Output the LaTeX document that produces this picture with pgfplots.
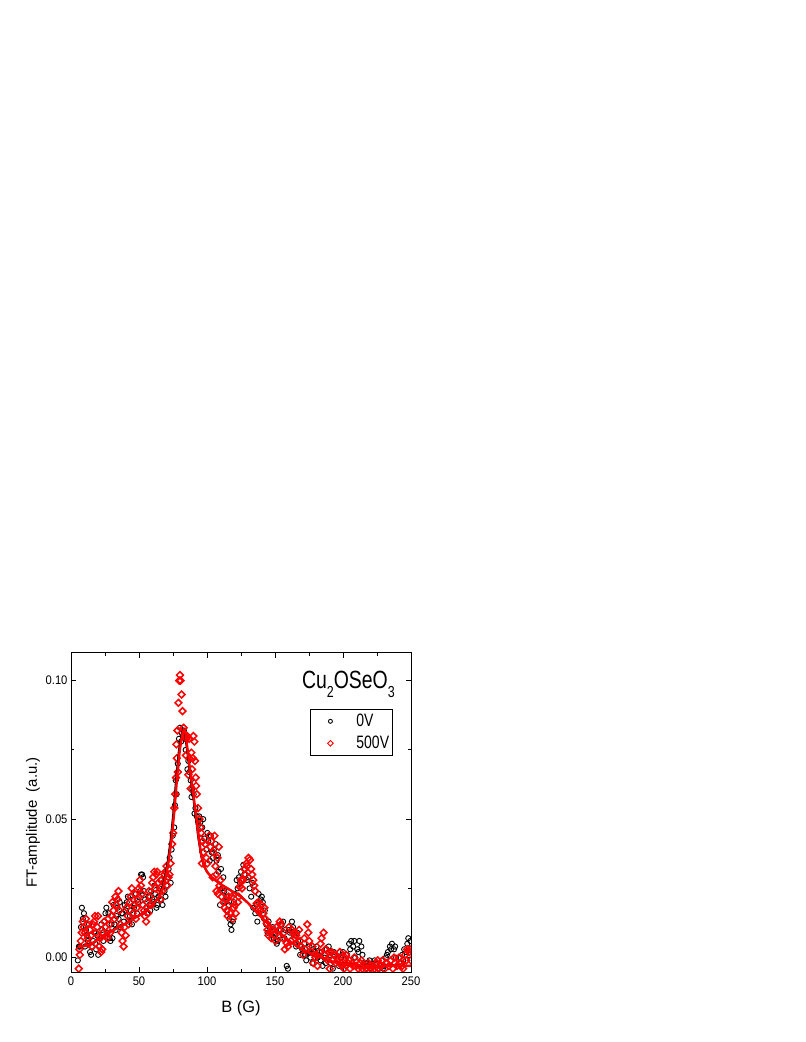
\documentclass[border=0pt]{standalone}
\usepackage{pgfplots}
\pgfplotsset{compat=1.18}
\usepackage{fontspec}
\setmainfont{Liberation Sans}
\newfontfamily\tickfont{Liberation Sans}[FakeStretch=0.9]
\newfontfamily\narrowfont{Liberation Sans}[FakeStretch=0.78]

\pgfplotstableread{
B A
5.0 -0.001
6.5 0.004
8.0 0.018
9.5 0.016
11.0 0.010
12.5 0.006
14.0 0.002
15.5 0.004
17.0 0.009
18.5 0.003
20.0 0.001
21.5 0.007
23.0 0.010
24.5 0.013
26.0 0.018
27.5 0.016
29.0 0.006
30.5 0.007
32.0 0.012
33.5 0.015
35.0 0.014
36.5 0.011
38.0 0.016
39.5 0.019
41.0 0.020
42.5 0.013
44.0 0.017
45.5 0.021
47.0 0.019
48.5 0.016
50.0 0.022
51.5 0.030
53.0 0.029
54.5 0.021
56.0 0.016
57.5 0.019
59.0 0.024
60.5 0.020
62.0 0.023
63.5 0.019
65.0 0.025
66.5 0.021
68.0 0.027
69.5 0.022
71.0 0.029
72.5 0.036
74.0 0.039
75.9 0.047
77.0 0.064
78.5 0.070
79.4 0.079
80.1 0.083
81.5 0.081
83.0 0.082
84.3 0.075
85.6 0.068
87.0 0.067
88.0 0.064
89.2 0.061
90.2 0.059
91.5 0.054
92.5 0.051
93.5 0.049
95.2 0.049
96.5 0.047
98.0 0.043
99.5 0.039
101.0 0.042
102.0 0.035
103.5 0.038
105.0 0.039
107.0 0.035
108.5 0.031
109.6 0.019
111.0 0.025
112.0 0.029
113.5 0.020
115.0 0.017
116.5 0.014
118.0 0.010
119.0 0.013
120.5 0.023
121.8 0.028
123.5 0.029
125.0 0.031
126.7 0.0335
128.0 0.032
129.5 0.028
130.5 0.029
132.5 0.022
134.0 0.018
135.5 0.016
137.0 0.013
138.5 0.016
139.5 0.021
141.0 0.020
142.5 0.017
143.5 0.012
144.5 0.009
146.0 0.011
147.5 0.008
149.0 0.007
150.5 0.009
152.0 0.006
153.5 0.008
155.0 0.012
156.0 0.013
157.5 0.010
158.6 -0.003
159.5 -0.004
161.0 0.009
162.5 0.013
164.0 0.008
165.5 0.004
167.0 0.006
168.5 0.001
170.0 0.003
171.5 0.005
173.0 -0.001
174.5 0.002
176.0 0.000
177.5 -0.002
179.0 0.002
180.5 0.004
182.0 0.001
183.5 -0.001
185.0 -0.003
186.5 0.000
188.0 0.003
189.5 0.004
191.0 -0.002
192.5 -0.004
194.0 0.001
195.5 -0.001
197.0 -0.003
198.5 0.000
200.0 0.002
201.5 -0.001
203.0 0.001
204.5 0.005
206.0 0.006
207.5 0.004
209.0 0.000
210.5 0.003
212.0 0.006
213.5 0.004
215.0 -0.002
216.5 -0.004
218.0 -0.003
219.5 -0.001
221.0 -0.004
222.5 -0.003
224.0 -0.002
225.5 -0.004
227.0 -0.003
228.5 -0.001
230.0 -0.003
231.5 0.000
233.0 0.002
234.5 0.004
236.0 0.005
237.5 0.003
239.0 0.000
240.5 -0.003
242.0 -0.002
243.5 0.001
245.0 0.003
246.5 0.002
248.0 0.007
249.5 0.006
5.8 0.004
7.3 0.011
8.7 0.014
10.3 0.004
11.8 0.008
13.3 0.012
14.8 0.001
16.3 0.006
17.8 0.005
19.3 0.008
20.8 0.004
22.3 0.012
23.8 0.006
25.3 0.016
26.8 0.009
28.3 0.007
29.8 0.012
31.3 0.019
32.8 0.010
34.3 0.018
35.8 0.020
37.3 0.016
38.8 0.013
40.3 0.017
41.8 0.022
43.3 0.015
44.8 0.012
46.3 0.018
47.8 0.023
49.3 0.020
50.8 0.024
52.3 0.030
53.8 0.024
55.3 0.018
56.8 0.022
58.3 0.017
59.8 0.021
61.3 0.026
62.8 0.018
64.3 0.022
65.8 0.028
67.3 0.019
68.8 0.024
70.3 0.026
71.8 0.032
73.3 0.027
74.8 0.044
76.4 0.055
77.7 0.059
81.0 0.078
82.3 0.080
84.0 0.079
86.3 0.071
88.6 0.058
90.8 0.052
94.3 0.051
97.2 0.050
100.3 0.045
102.8 0.044
104.3 0.036
106.3 0.041
108.0 0.037
110.3 0.032
112.8 0.024
114.3 0.022
116.0 0.019
117.3 0.012
119.8 0.020
122.5 0.025
124.3 0.027
127.5 0.030
131.3 0.025
133.3 0.027
136.3 0.019
138.0 0.023
140.3 0.022
142.0 0.014
145.3 0.013
148.3 0.011
151.3 0.005
154.3 0.010
157.0 0.007
160.3 0.010
163.3 0.011
166.3 0.009
169.3 0.004
172.3 0.001
175.3 0.004
178.3 0.003
181.3 0.000
184.3 0.002
187.3 -0.002
190.3 0.001
193.3 0.002
199.3 0.001
202.3 -0.003
205.3 0.003
208.3 0.006
211.3 0.002
214.3 0.001
217.3 -0.002
223.3 -0.001
229.3 -0.004
232.3 0.001
235.3 0.003
238.3 0.004
241.3 0.000
244.3 -0.001
247.3 0.005
}\zeroV

\pgfplotstableread{
B A
5.7 -0.004
6.5 0.001
7.2 0.006
8.7 0.013
10.2 0.009
11.7 0.012
13.2 0.005
14.7 0.008
16.2 0.012
17.7 0.015
19.2 0.011
20.7 0.004
22.2 0.002
23.7 0.009
25.2 0.011
26.7 0.007
28.2 0.012
29.7 0.015
31.2 0.017
32.7 0.022
34.2 0.021
35.7 0.017
37.2 0.009
38.7 0.004
40.2 0.008
41.7 0.015
43.2 0.020
44.7 0.025
46.2 0.019
47.7 0.014
49.2 0.021
50.7 0.028
52.2 0.023
53.7 0.017
55.2 0.013
56.7 0.016
58.2 0.022
59.7 0.027
61.2 0.031
62.7 0.030
64.2 0.027
65.7 0.021
67.2 0.024
68.7 0.030
70.2 0.033
71.7 0.029
73.2 0.034
74.4 0.041
75.2 0.045
76.0 0.054
76.6 0.059
77.2 0.065
77.8 0.072
78.2 0.082
79.0 0.092
79.6 0.100
80.1 0.102
80.6 0.100
81.3 0.095
82.0 0.089
82.8 0.083
83.8 0.080
84.5 0.073
85.4 0.080
86.3 0.066
87.0 0.072
88.0 0.061
89.0 0.068
90.0 0.080
90.7 0.078
91.2 0.071
91.7 0.065
92.5 0.059
93.4 0.054
94.5 0.050
95.7 0.045
96.3 0.034
97.3 0.038
98.7 0.041
100.2 0.034
101.7 0.044
103.2 0.042
104.2 0.029
104.7 0.038
106.2 0.033
107.0 0.024
107.7 0.036
108.0 0.023
109.2 0.026
110.7 0.022
112.0 0.020
113.7 0.021
114.5 0.017
115.2 0.015
117.0 0.016
118.2 0.022
119.7 0.018
121.2 0.016
122.7 0.020
124.0 0.0256
125.7 0.025
126.7 0.028
128.2 0.030
129.5 0.033
130.5 0.036
131.6 0.0353
133.2 0.030
134.7 0.026
136.5 0.0196
137.7 0.020
139.2 0.017
141.4 0.016
142.2 0.018
143.9 0.0124
145.2 0.008
146.3 0.0092
148.2 0.010
149.7 0.008
151.0 0.011
152.7 0.010
154.2 0.012
155.7 0.007
157.2 0.003
158.6 0.0052
160.2 0.011
161.7 0.006
163.5 0.0088
164.7 0.007
166.2 0.005
167.7 0.010
169.2 0.004
170.7 0.001
172.2 0.003
173.7 0.012
175.2 0.006
176.7 0.002
178.2 -0.002
179.7 0.000
181.2 -0.003
182.7 0.002
184.2 0.007
185.7 0.009
187.2 0.003
188.7 -0.001
190.2 -0.004
191.7 0.002
193.2 0.001
194.7 -0.002
196.2 -0.001
197.7 0.002
199.2 -0.003
200.7 -0.004
202.2 0.001
203.7 -0.002
205.2 -0.004
206.7 -0.002
208.2 0.000
209.7 -0.003
211.2 -0.004
212.7 -0.002
214.2 -0.004
215.7 -0.003
217.2 -0.004
218.7 -0.002
220.2 -0.004
221.7 -0.003
223.2 -0.004
224.7 -0.002
226.2 -0.004
227.7 -0.003
229.2 -0.001
230.7 -0.004
232.2 -0.002
233.7 -0.003
235.2 -0.001
236.7 -0.004
238.2 -0.002
239.7 -0.003
241.2 0.000
242.7 -0.002
244.2 -0.004
245.7 0.001
247.2 0.003
248.7 0.002
249.9 -0.001
6.2 0.003
7.9 0.009
9.4 0.011
11.0 0.014
12.4 0.007
13.9 0.010
15.4 0.004
16.9 0.013
18.4 0.009
19.9 0.015
21.4 0.007
22.9 0.003
24.4 0.013
25.9 0.008
27.4 0.014
28.9 0.009
30.4 0.020
31.9 0.014
33.4 0.019
34.9 0.024
36.4 0.012
37.9 0.006
39.4 0.011
40.9 0.018
42.4 0.012
43.9 0.022
45.4 0.016
46.9 0.023
48.4 0.018
49.9 0.025
51.4 0.026
52.9 0.019
54.4 0.015
55.9 0.020
57.4 0.024
58.9 0.019
60.4 0.029
61.9 0.025
63.4 0.031
64.9 0.024
66.4 0.028
67.9 0.027
69.4 0.031
70.9 0.026
72.4 0.030
77.5 0.077
78.6 0.067
84.9 0.079
86.8 0.079
88.5 0.074
89.6 0.072
92.0 0.062
95.2 0.047
96.8 0.042
99.5 0.036
102.5 0.040
105.5 0.044
106.8 0.030
108.7 0.040
110.0 0.028
111.3 0.024
113.0 0.018
115.8 0.022
117.6 0.020
119.0 0.014
120.5 0.019
123.3 0.022
125.0 0.028
127.5 0.032
129.0 0.034
132.4 0.032
134.0 0.028
135.5 0.024
138.4 0.018
140.0 0.019
142.9 0.014
144.5 0.010
147.3 0.007
150.4 0.006
153.5 0.013
156.5 0.009
159.5 0.004
162.5 0.010
165.5 0.008
168.5 0.006
171.5 0.007
174.5 0.009
177.5 0.004
180.5 0.001
183.5 0.005
186.5 0.001
189.5 0.002
192.5 -0.001
195.5 0.000
198.5 -0.002
201.5 0.000
204.5 -0.001
207.5 -0.003
213.5 -0.001
219.5 -0.003
225.5 -0.001
231.5 -0.002
237.5 0.000
243.5 -0.003
246.5 -0.001
249.2 0.003
}\fiveV

\pgfplotstableread{
B A
5 0.0040
10 0.0042
15 0.0050
20 0.0065
25 0.0080
30 0.0096
35 0.0110
40 0.0122
45 0.0138
50 0.0152
55 0.0170
60 0.0192
65 0.0220
68 0.0256
70 0.0300
72 0.0355
74 0.0430
76 0.0530
78 0.0650
80 0.0750
82 0.0810
83 0.0822
84 0.0815
86 0.0740
88 0.0660
90 0.0590
92 0.0510
94 0.0430
96 0.0365
98 0.0330
100 0.0310
103 0.0292
106 0.0280
110 0.0265
115 0.0250
120 0.0235
125 0.0220
130 0.0198
135 0.0172
140 0.0145
145 0.0122
150 0.0100
155 0.0080
160 0.0062
165 0.0045
170 0.0030
175 0.0018
180 0.0008
185 -0.0002
190 -0.0012
195 -0.0018
200 -0.0022
210 -0.0028
220 -0.0030
235 -0.0030
250 -0.0030
}\fitred

\pgfplotstableread{
B A
5 0.0040
10 0.0042
15 0.0050
20 0.0065
25 0.0080
30 0.0096
35 0.0110
40 0.0122
45 0.0138
50 0.0152
55 0.0170
60 0.0192
65 0.0222
67.5 0.0258
69.4 0.0300
71.4 0.0355
73.4 0.0430
75.4 0.0530
77.4 0.0650
79.4 0.0750
81.5 0.0810
82.6 0.0822
83.6 0.0815
85.6 0.0740
87.6 0.0660
89.6 0.0590
91.7 0.0510
93.7 0.0430
95.8 0.0365
97.8 0.0330
100 0.0310
103 0.0292
106 0.0280
110 0.0265
115 0.0250
120 0.0235
125 0.0220
130 0.0198
135 0.0172
140 0.0145
145 0.0122
150 0.0100
155 0.0080
160 0.0062
165 0.0045
170 0.0030
175 0.0018
180 0.0008
185 -0.0002
190 -0.0012
195 -0.0018
200 -0.0022
210 -0.0028
220 -0.0030
235 -0.0030
250 -0.0030
}\fitblack

\begin{document}
\begin{tikzpicture}
\useasboundingbox (0,0) rectangle (806bp,1042bp);
\begin{axis}[
  at={(71bp,70bp)}, anchor=south west,
  scale only axis, width=340bp, height=319.3bp,
  xmin=0, xmax=250, ymin=-0.0052, ymax=0.1101,
  xtick={0,50,100,150,200,250},
  ytick={0,0.05,0.1},
  minor x tick num=1, minor y tick num=1,
  tick align=inside,
  major tick length=5bp, minor tick length=3bp,
  every tick/.style={black, line width=0.9bp},
  axis line style={black, line width=0.9bp},
  scaled y ticks=false,
  yticklabel style={/pgf/number format/.cd, fixed, fixed zerofill, precision=2},
  /pgf/number format/assume math mode=true,
  ticklabel style={font=\tickfont\fontsize{12.5}{14}\selectfont},
  xticklabel style={yshift=-1bp},
  xlabel={B (G)},
  ylabel={FT-amplitude\ \ (a.u.)},
  xlabel style={font=\fontsize{16.5}{19}\selectfont, at={(axis description cs:0.5,-0.113)}, anchor=center},
  ylabel style={font=\fontsize{15}{18}\selectfont, at={(axis description cs:-0.112,0.468)}, anchor=center},
  clip marker paths=true,
  legend style={at={(axis description cs:0.703,0.824)}, anchor=north west,
    draw=black, line width=0.8bp, font=\narrowfont\fontsize{18}{20}\selectfont,
    inner xsep=1bp, inner ysep=3bp, row sep=4bp,
    nodes={inner sep=2bp}},
  legend cell align=left,
  legend image code/.code={\path[draw=none,fill=none] (0,0) -- (43bp,0); \draw[#1, only marks, mark size=2bp, line width=0.9bp] plot coordinates {(19bp,0)};},
]
\addplot[only marks, mark=o, mark size=2.6bp, black, line width=0.9bp] table[x=B,y=A] {\zeroV};
\addlegendentry{0V}
\addplot[only marks, mark=square, mark options={rotate=45}, mark size=2.4bp, red, line width=1.5bp] table[x=B,y=A] {\fiveV};
\addlegendentry{500V}
\addplot[black, line width=2bp, forget plot] table[x=B,y=A] {\fitblack};
\addplot[red, line width=2.4bp, forget plot] table[x=B,y=A] {\fitred};
\node[anchor=base west, inner sep=0pt, font=\narrowfont\fontsize{25}{30}\selectfont] at (axis description cs:0.679,0.889)
  {Cu\raisebox{-9bp}{\fontsize{16}{16}\selectfont 2}OSeO\raisebox{-9bp}{\fontsize{16}{16}\selectfont 3}};
\end{axis}
\end{tikzpicture}
\end{document}
